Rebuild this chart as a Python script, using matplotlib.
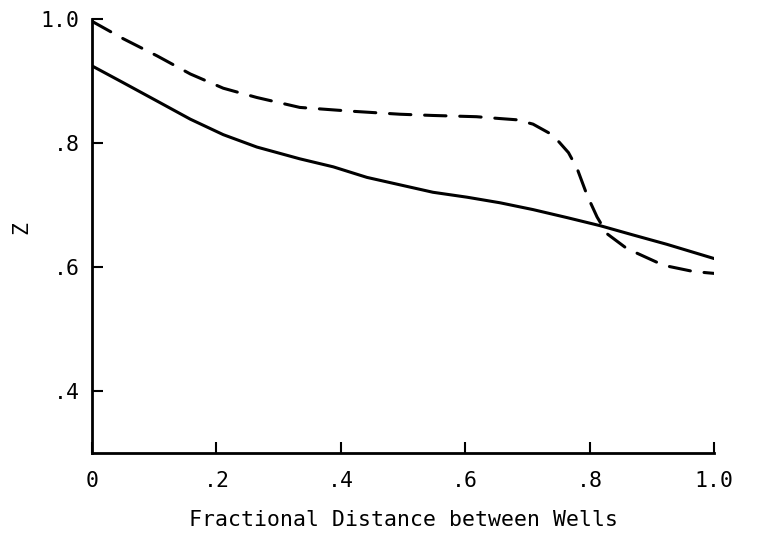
import matplotlib
matplotlib.use("Agg")
import matplotlib.pyplot as plt

# values
solid_x = [0.0, 0.05, 0.105, 0.158, 0.211, 0.265, 0.334, 0.388, 0.442, 0.495,
           0.548, 0.603, 0.656, 0.709, 0.764, 0.817, 0.870, 0.924, 1.0]
solid_z = [0.925, 0.898, 0.868, 0.839, 0.814, 0.794, 0.775, 0.762, 0.745, 0.733,
           0.721, 0.713, 0.704, 0.693, 0.680, 0.667, 0.652, 0.637, 0.614]

dashed_x = [0.0, 0.05, 0.105, 0.158, 0.211, 0.265, 0.334, 0.415, 0.495, 0.548,
            0.618, 0.656, 0.683, 0.709, 0.736, 0.751, 0.766, 0.780, 0.796, 0.812,
            0.828, 0.860, 0.919, 0.967, 1.0]
dashed_z = [0.997, 0.969, 0.941, 0.912, 0.889, 0.874, 0.858, 0.852, 0.847, 0.845,
            0.843, 0.840, 0.838, 0.831, 0.816, 0.802, 0.785, 0.759, 0.716, 0.681,
            0.654, 0.630, 0.603, 0.593, 0.590]

xticks = [0, 0.2, 0.4, 0.6, 0.8, 1.0]
xtick_labels = ["0", ".2", ".4", ".6", ".8", "1.0"]
yticks = [0.4, 0.6, 0.8, 1.0]
ytick_labels = [".4", ".6", ".8", "1.0"]

plt.rcParams["font.family"] = ["DejaVu Sans Mono"]
plt.rcParams["font.size"] = 15.5

fig = plt.figure(figsize=(7.6, 5.35), dpi=100)
ax = fig.add_axes([0.1211, 0.1533, 0.8184, 0.8103])

ax.plot(solid_x, solid_z, color="black", lw=2.2, solid_capstyle="round")
ax.plot(dashed_x, dashed_z, color="black", lw=2.2, linestyle=(0, (7, 4.5)),
        dash_capstyle="round")

ax.set_xlim(0, 1.0)
ax.set_ylim(0.3, 1.0)
ax.set_xticks(xticks)
ax.set_xticklabels(xtick_labels)
ax.set_yticks(yticks)
ax.set_yticklabels(ytick_labels)

for side in ["top", "right"]:
    ax.spines[side].set_visible(False)
for side in ["left", "bottom"]:
    ax.spines[side].set_linewidth(2.0)

ax.tick_params(axis="both", direction="in", length=8, width=1.5)
ax.tick_params(axis="x", pad=13)
ax.tick_params(axis="y", pad=9)

ax.set_xlabel("Fractional Distance between Wells", labelpad=14)
ax.set_ylabel("Z")
ax.yaxis.set_label_coords(-0.098, 0.52)

fig.savefig("out.png", dpi=100)
